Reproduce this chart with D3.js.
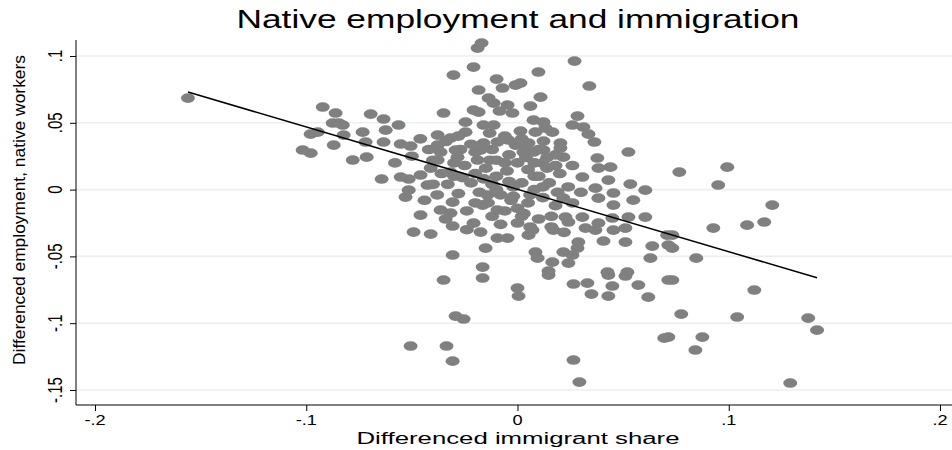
<!DOCTYPE html>
<html>
<head>
<meta charset="utf-8">
<script src="https://cdn.jsdelivr.net/npm/d3@7"></script>
<style>
  html, body { margin: 0; padding: 0; background: #ffffff; }
  svg { display: block; }
  text { font-family: "Liberation Sans", Arial, sans-serif; fill: #000; }
</style>
</head>
<body>
<svg id="chart" width="952" height="450"></svg>
<script>
// Axis ticks
const xTicks = [-0.2, -0.1, 0, 0.1, 0.2];
const xTickLabels = ["-.2", "-.1", "0", ".1", ".2"];
const yTicks = [0.1, 0.05, 0, -0.05, -0.1, -0.15];
const yTickLabels = [".1", ".05", "0", "-.05", "-.1", "-.15"];

// Fitted regression line: employment change = intercept + slope * immigrant share change
const fitIntercept = 0.0002;
const fitSlope = -0.467;

// Observations: [differenced immigrant share, differenced native employment]
const observations = [
  [-0.156, 0.0685], [-0.0922, 0.0618], [-0.0861, 0.0573], [-0.0875, 0.0498], [-0.0846, 0.0498],
  [-0.0979, 0.0415], [-0.0946, 0.0430], [-0.0870, 0.0333], [-0.1017, 0.0296], [-0.0979, 0.0273],
  [-0.0170, 0.1097], [-0.0189, 0.1059], [-0.0208, 0.0917], [-0.0303, 0.0857], [-0.0099, 0.0827],
  [-0.0184, 0.0745], [-0.0071, 0.0760], [-0.0137, 0.0685], [-0.0113, 0.0647], [-0.0208, 0.0595],
  [-0.0184, 0.0580], [-0.0350, 0.0573], [-0.0085, 0.0588], [-0.0695, 0.0565], [-0.0634, 0.0528],
  [-0.0246, 0.0505], [-0.0246, 0.0430], [-0.0161, 0.0483], [-0.0113, 0.0483], [-0.0563, 0.0483],
  [-0.0827, 0.0483], [-0.0733, 0.0430], [-0.0624, 0.0445], [-0.0132, 0.0423], [-0.0378, 0.0408],
  [-0.0317, 0.0385], [-0.0378, 0.0333], [-0.0553, 0.0341], [-0.0506, 0.0326], [-0.0634, 0.0356],
  [-0.0719, 0.0356], [-0.0823, 0.0408], [-0.0161, 0.0348], [-0.0095, 0.0356], [-0.0293, 0.0296],
  [-0.0175, 0.0296], [-0.0364, 0.0281],
  [0.0270, 0.0962], [0.0099, 0.0880], [0.0014, 0.0797], [-0.0009, 0.0782], [0.0340, 0.0775],
  [0.0109, 0.0692], [-0.0047, 0.0633], [0.0061, 0.0625], [-0.0024, 0.0573], [0.0284, 0.0550],
  [0.0076, 0.0520], [0.0123, 0.0505], [0.0260, 0.0483], [0.0312, 0.0468], [0.0014, 0.0438],
  [0.0085, 0.0430], [0.0165, 0.0430], [0.0132, 0.0460], [0.0336, 0.0415], [-0.0043, 0.0371],
  [-0.0009, 0.0333], [0.0052, 0.0348], [0.0123, 0.0363], [0.0203, 0.0348], [0.0364, 0.0356],
  [0.0123, 0.0296], [0.0203, 0.0311], [0.0028, 0.0281], [0.0076, 0.0281], [0.0525, 0.0281],
  [-0.0780, 0.0221], [-0.0714, 0.0243], [-0.0643, 0.0079], [-0.0553, 0.0094], [-0.0515, 0.0079],
  [-0.0459, 0.0109], [-0.0411, 0.0161], [-0.0426, 0.0034], [-0.0515, -0.0004], [-0.0530, -0.0056],
  [-0.0459, -0.0191], [-0.0364, -0.0153], [-0.0317, -0.0176], [-0.0307, -0.0094], [-0.0307, -0.0273],
  [-0.0492, -0.0318], [-0.0411, -0.0333], [-0.0307, -0.0490], [-0.0208, -0.0251], [-0.0175, -0.0318],
  [-0.0095, -0.0363], [-0.0151, -0.0438], [-0.0165, -0.0580], [-0.0378, 0.0221], [-0.0284, 0.0243],
  [-0.0189, 0.0221], [-0.0317, 0.0131], [-0.0142, -0.0041], [-0.0095, -0.0153], [-0.0165, -0.0116],
  [-0.025, 0.018], [-0.020, 0.012], [-0.015, 0.016], [-0.010, 0.010], [-0.005, 0.014],
  [-0.022, 0.005], [-0.012, 0.004], [-0.004, 0.006], [-0.018, -0.002], [-0.008, -0.004],
  [-0.026, 0.009], [-0.003, -0.008], [-0.013, 0.022], [-0.006, 0.020], [-0.028, -0.003],
  [-0.040, 0.022], [-0.036, 0.012], [-0.033, 0.004], [-0.038, -0.004], [-0.044, -0.008],
  [-0.027, 0.030], [-0.022, 0.034], [-0.012, 0.030], [-0.004, 0.026], [0.004, 0.024],
  [0.008, 0.020], [-0.020, -0.010], [-0.024, -0.016], [-0.012, -0.020], [-0.006, -0.016],
  [0.000, -0.014], [0.006, -0.004], [0.012, 0.002], [0.016, -0.028], [0.022, -0.032],
  [-0.002, 0.002], [-0.030, 0.020], [-0.016, 0.008], [0.004, 0.032], [0.014, 0.024],
  [0.024, 0.002], [0.026, -0.010], [-0.008, -0.026], [-0.024, -0.030], [-0.034, -0.022],
  [-0.042, 0.030], [-0.034, 0.036], [-0.028, 0.040], [-0.006, 0.040], [0.002, 0.038],
  [-0.020, 0.028], [-0.010, 0.022], [0.010, 0.030], [0.018, 0.026], [-0.046, 0.038],
  [-0.050, 0.025], [-0.058, 0.020], [-0.014, -0.010], [0.002, -0.020], [0.008, 0.010],
  [-0.010, 0.000], [0.018, 0.018], [0.026, 0.018], [0.030, -0.002], [-0.030, 0.010],
  [-0.040, 0.004],
  [0.0217, 0.0243], [0.0378, 0.0236], [0.0383, 0.0161], [0.0440, 0.0168], [0.0118, 0.0198],
  [0.0430, 0.0071], [0.0534, 0.0041], [0.0369, 0.0011], [0.0307, 0.0094], [0.0605, -0.0004],
  [0.0454, -0.0026], [0.0548, -0.0079], [0.0383, -0.0064], [0.0454, -0.0116], [0.0217, -0.0064],
  [0.0307, -0.0206], [0.0227, -0.0206], [0.0241, -0.0243], [0.0525, -0.0206], [0.0605, -0.0206],
  [0.0383, -0.0251], [0.0322, -0.0288], [0.0369, -0.0303], [0.0454, -0.0303], [0.0511, -0.0288],
  [0.0449, -0.0213], [-0.0047, -0.0363], [0.0052, -0.0341], [0.0170, -0.0303], [0.0071, -0.0303],
  [0.0288, -0.0393], [0.0284, -0.0438], [0.0407, -0.0385], [0.0511, -0.0393], [0.0638, -0.0423],
  [0.0709, -0.0341], [0.0714, -0.0415], [0.0085, -0.0468], [0.0095, -0.0513], [0.0217, -0.0468],
  [0.0260, -0.0490], [0.0165, -0.0543], [0.0241, -0.0550], [0.0147, -0.0610], [0.0426, -0.0618],
  [0.0520, -0.0618], [0.0629, -0.0513],
  [0.000, 0.020], [0.005, 0.015], [0.010, 0.010], [0.002, 0.005], [0.008, 0.000],
  [0.015, 0.005], [-0.002, -0.005], [0.005, -0.010], [0.012, -0.006], [0.018, -0.012],
  [0.003, -0.018], [0.010, -0.022], [0.016, -0.020], [0.000, -0.025], [0.006, -0.028],
  [0.020, 0.012], [0.014, 0.016], [0.019, -0.002],
  [0.0766, 0.0131], [0.0993, 0.0168], [0.0950, 0.0034], [0.1206, -0.0116], [0.1168, -0.0243],
  [0.1087, -0.0266], [0.0927, -0.0288], [0.0733, -0.0341], [0.0733, -0.0438], [0.0846, -0.0513],
  [-0.0350, -0.0677], [-0.0165, -0.0662], [-0.0293, -0.0947], [-0.0255, -0.0969], [-0.0506, -0.1171],
  [-0.0336, -0.1171], [-0.0307, -0.1284],
  [0.0000, -0.0737], [0.0005, -0.0797], [0.0265, -0.0707], [0.0331, -0.0700], [0.0350, -0.0782],
  [0.0430, -0.0797], [0.0449, -0.0722], [0.0572, -0.0715], [0.0619, -0.0805], [0.0714, -0.0677],
  [0.0147, -0.0640], [0.0511, -0.0647], [0.0430, -0.0640], [0.0695, -0.1112], [0.0265, -0.1276],
  [0.0293, -0.1441],
  [0.0733, -0.0677], [0.1121, -0.0752], [0.0775, -0.0932], [0.1040, -0.0954], [0.1376, -0.0962],
  [0.1418, -0.1052], [0.0714, -0.1104], [0.0875, -0.1104], [0.0842, -0.1201], [0.1291, -0.1448]
];

const svg = d3.select("#chart");

// Plot region frame
const frame = { left: 76, right: 952, top: 40, bottom: 405 };

const x = d3.scaleLinear().domain([-0.2, 0.2]).range([95, 940]);
const y = d3.scaleLinear().domain([-0.15, 0.1]).range([390, 56]);

// Horizontal gridlines
svg.append("g").selectAll("line")
  .data(yTicks)
  .join("line")
  .attr("x1", frame.left).attr("x2", frame.right)
  .attr("y1", d => y(d)).attr("y2", d => y(d))
  .attr("stroke", "#e9f0f1").attr("stroke-width", 1.6);

// Y axis
const yAxis = d3.axisLeft(y).tickValues(yTicks).tickSize(6).tickFormat("");
const gy = svg.append("g").attr("transform", `translate(${frame.left},0)`).call(yAxis);
gy.select(".domain").remove();
gy.selectAll(".tick line").attr("stroke", "#000");
gy.append("line").attr("x1", 0).attr("x2", 0).attr("y1", frame.top).attr("y2", frame.bottom).attr("stroke", "#000");

// Y tick labels, vertical
svg.append("g").selectAll("text")
  .data(yTicks)
  .join("text")
  .attr("transform", d => `translate(62,${y(d)}) rotate(-90) scale(1,1.3)`)
  .attr("text-anchor", "middle")
  .attr("font-size", 15)
  .text((d, i) => yTickLabels[i]);

// X axis
const xAxis = d3.axisBottom(x).tickValues(xTicks).tickSize(6).tickFormat("");
const gx = svg.append("g").attr("transform", `translate(0,${frame.bottom})`).call(xAxis);
gx.select(".domain").remove();
gx.selectAll(".tick line").attr("stroke", "#000");
gx.append("line").attr("x1", frame.left).attr("x2", frame.right).attr("y1", 0).attr("y2", 0).attr("stroke", "#000");

svg.append("g").selectAll("text")
  .data(xTicks)
  .join("text")
  .attr("transform", d => `translate(${x(d)},425) scale(1.3,1)`)
  .attr("text-anchor", "middle")
  .attr("font-size", 14)
  .text((d, i) => xTickLabels[i]);

// Scatter points
svg.append("g").selectAll("ellipse")
  .data(observations)
  .join("ellipse")
  .attr("cx", d => x(d[0]))
  .attr("cy", d => y(d[1]))
  .attr("rx", 7)
  .attr("ry", 4.8)
  .attr("fill", "#808080");

// Fitted line over the observed range
const xExtent = d3.extent(observations, d => d[0]);
svg.append("line")
  .attr("x1", x(xExtent[0])).attr("y1", y(fitIntercept + fitSlope * xExtent[0]))
  .attr("x2", x(xExtent[1])).attr("y2", y(fitIntercept + fitSlope * xExtent[1]))
  .attr("stroke", "#000").attr("stroke-width", 1.5);

// Titles
svg.append("text")
  .attr("x", 518).attr("y", 28)
  .attr("text-anchor", "middle")
  .attr("font-size", 26)
  .attr("textLength", 563).attr("lengthAdjust", "spacingAndGlyphs")
  .text("Native employment and immigration");

svg.append("text")
  .attr("x", 518).attr("y", 444)
  .attr("text-anchor", "middle")
  .attr("font-size", 16)
  .attr("textLength", 323).attr("lengthAdjust", "spacingAndGlyphs")
  .text("Differenced immigrant share");

svg.append("text")
  .attr("transform", "translate(25,210) rotate(-90)")
  .attr("text-anchor", "middle")
  .attr("font-size", 16)
  .attr("textLength", 310).attr("lengthAdjust", "spacingAndGlyphs")
  .text("Differenced employment, native workers");
</script>
</body>
</html>
